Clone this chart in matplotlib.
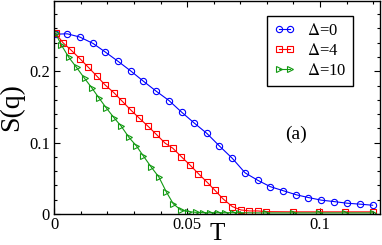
import matplotlib
matplotlib.use("Agg")
import matplotlib.pyplot as plt
from matplotlib.ticker import MultipleLocator

plt.rcParams['font.family'] = ['Liberation Serif', 'DejaVu Serif']
plt.rcParams['mathtext.fontset'] = 'stix'

# values
t_d0 = [0.0005, 0.0049, 0.0096, 0.0146, 0.0192, 0.0241, 0.0288, 0.0335, 0.0384,
        0.0432, 0.0479, 0.0526, 0.0574, 0.0621, 0.0670, 0.0718, 0.0766, 0.0813,
        0.0862, 0.0910, 0.0956, 0.1005, 0.1053, 0.1100, 0.1150, 0.1198]
s_d0 = [0.252, 0.2525, 0.248, 0.239, 0.227, 0.2137, 0.2004, 0.1862, 0.172,
        0.1589, 0.1428, 0.1277, 0.113, 0.0955, 0.078, 0.0577, 0.0472, 0.0383,
        0.0326, 0.027, 0.0231, 0.0194, 0.0174, 0.0152, 0.0138, 0.0123]

t_d4 = [0.0005, 0.0033, 0.0064, 0.0097, 0.0128, 0.0160, 0.0192, 0.0225, 0.0256,
        0.0288, 0.0320, 0.0353, 0.0384, 0.0417, 0.0446, 0.0478, 0.0511, 0.0542,
        0.0574, 0.0605, 0.0636, 0.0670, 0.0702, 0.0734, 0.0766, 0.0797, 0.0900,
        0.0997, 0.1094, 0.1198]
s_d4 = [0.2532, 0.240, 0.2294, 0.2175, 0.2057, 0.1933, 0.1806, 0.1698, 0.1579,
        0.1457, 0.1343, 0.1229, 0.1116, 0.0993, 0.0922, 0.0804, 0.0685, 0.0567,
        0.045, 0.033, 0.0209, 0.0104, 0.0057, 0.0043, 0.0043, 0.0033, 0.003,
        0.003, 0.003, 0.003]

t_d10 = [0.0005, 0.0026, 0.0055, 0.0084, 0.0114, 0.0141, 0.0168, 0.0196, 0.0225,
         0.0252, 0.0281, 0.0309, 0.0335, 0.0365, 0.0394, 0.0422, 0.0448, 0.0476,
         0.0504, 0.0532, 0.0561, 0.0586, 0.0617, 0.0642, 0.0671, 0.0696, 0.0797,
         0.0900, 0.0997, 0.1094, 0.1198]
s_d10 = [0.2532, 0.2373, 0.2194, 0.2053, 0.1901, 0.1769, 0.1627, 0.1485, 0.1348,
         0.1230, 0.1074, 0.0955, 0.0815, 0.0657, 0.0516, 0.0308, 0.0142, 0.0057,
         0.0033, 0.0024, 0.0018, 0.0018, 0.0018, 0.0018, 0.0018, 0.0018, 0.0015,
         0.0015, 0.0015, 0.0015, 0.0015]

labels = [r'$\Delta$=0', r'$\Delta$=4', r'$\Delta$=10']

fig = plt.figure(figsize=(3.82, 2.45), dpi=100)
ax = fig.add_axes([0.142, 0.1265, 0.853, 0.8695])

ax.plot(t_d0, s_d0, color='#0000ff', lw=0.8, marker='o', ms=4.5,
        mfc='none', mew=0.8, label=labels[0])
ax.plot(t_d4, s_d4, color='#ff0000', lw=0.8, marker='s', ms=4.2,
        mfc='none', mew=0.8, label=labels[1])
ax.plot(t_d10, s_d10, color='#119911', lw=0.8, marker='>', ms=4.5,
        mfc='none', mew=0.8, label=labels[2])

ax.set_xlim(0, 0.1226)
ax.set_ylim(0, 0.2985)
ax.xaxis.set_major_locator(MultipleLocator(0.05))
ax.xaxis.set_minor_locator(MultipleLocator(0.01))
ax.yaxis.set_major_locator(MultipleLocator(0.1))
ax.yaxis.set_minor_locator(MultipleLocator(0.02))
ax.xaxis.set_major_formatter(plt.FuncFormatter(lambda v, p: '%g' % round(v, 3)))
ax.yaxis.set_major_formatter(plt.FuncFormatter(lambda v, p: '%g' % round(v, 3)))

ax.tick_params(which='both', direction='in', top=True, right=True,
               labelsize=12, width=0.8)
ax.tick_params(which='major', length=4.3)
ax.tick_params(which='minor', length=2.2)
ax.tick_params(axis='x', pad=2)
ax.tick_params(axis='y', pad=3)
for sp in ax.spines.values():
    sp.set_linewidth(1.0)

ax.set_xlabel('T', fontsize=18, labelpad=-7)
ax.set_ylabel('S(q)', fontsize=20, labelpad=4)

ax.text(0.091, 0.112, '(a)', fontsize=14, ha='center', va='center')

leg = ax.legend(loc='upper right', bbox_to_anchor=(0.917, 0.93), borderaxespad=0,
                fontsize=12, numpoints=2, handlelength=1.3, handletextpad=0.7,
                labelspacing=0.25, borderpad=0.4, fancybox=False, framealpha=1)
leg.get_frame().set_edgecolor('black')
leg.get_frame().set_linewidth(1.0)

fig.savefig('out.png', dpi=100)
